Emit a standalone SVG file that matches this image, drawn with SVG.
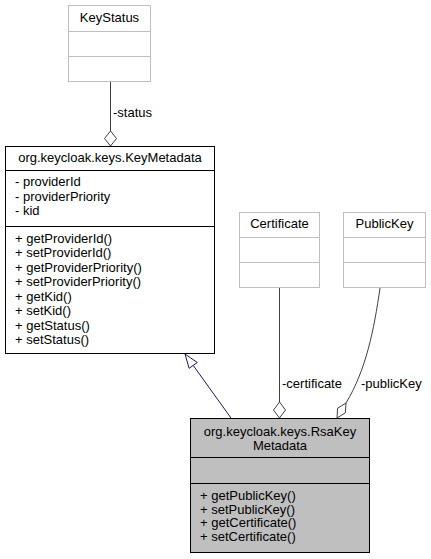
<svg xmlns="http://www.w3.org/2000/svg" width="431" height="559" viewBox="0 0 431 559">
<style>
text{font-family:"Liberation Sans",Arial,sans-serif;font-size:13px;fill:#000}
.c{text-anchor:middle}
.light{fill:#fff;stroke:#bfbfbf;stroke-width:1}
.dark{fill:#fff;stroke:#000;stroke-width:1}
.gray{fill:#bfbfbf;stroke:#000;stroke-width:1}
.ld{stroke:#bfbfbf;stroke-width:1}
.dd{stroke:#000;stroke-width:1}
.agg{fill:none;stroke:#404040;stroke-width:1}
.dia{fill:#fff;stroke:#404040;stroke-width:1}
.inh{fill:none;stroke:#191970;stroke-width:1}
.tri{fill:#fff;stroke:#191970;stroke-width:1}
</style>
<rect width="431" height="559" fill="#fff"/>
<g id="connectors">
<path class="agg" d="M110.5,82 L110.5,131"/>
<polygon class="dia" points="110.5,131 116.5,138.5 110.5,146 104.5,138.5"/>
<text x="113" y="117">-status</text>
<path class="agg" d="M279.5,288 L279.5,402"/>
<polygon class="dia" points="279.5,402 285.5,410 279.5,418 273.5,410"/>
<text x="282" y="388">-certificate</text>
<path class="agg" d="M380,288 C374,330 366,370 346,403"/>
<polygon class="dia" points="346,403 345.4,412.8 337,418 337.6,408.2"/>
<text x="361" y="388">-publicKey</text>
<path class="inh" d="M231,418 L193.2,365.4"/>
<polygon class="tri" points="185,354 197.3,362.5 189.1,368.3"/>
</g>
<g id="KeyStatus">
<rect class="light" x="68.5" y="5.5" width="82" height="76"/>
<line class="ld" x1="68.5" y1="31.5" x2="150.5" y2="31.5"/>
<line class="ld" x1="68.5" y1="56.5" x2="150.5" y2="56.5"/>
<text class="c" x="109.5" y="22">KeyStatus</text>
</g>
<g id="KeyMetadata">
<rect class="dark" x="5.5" y="146.5" width="209" height="207"/>
<line class="dd" x1="5.5" y1="170.5" x2="214.5" y2="170.5"/>
<line class="dd" x1="5.5" y1="226.5" x2="214.5" y2="226.5"/>
<text class="c" x="110" y="162">org.keycloak.keys.KeyMetadata</text>
<text x="15" y="186">- providerId</text>
<text x="15" y="200.5">- providerPriority</text>
<text x="15" y="215">- kid</text>
<text x="15" y="242.5">+ getProviderId()</text>
<text x="15" y="257">+ setProviderId()</text>
<text x="15" y="271.5">+ getProviderPriority()</text>
<text x="15" y="286">+ setProviderPriority()</text>
<text x="15" y="300.5">+ getKid()</text>
<text x="15" y="315">+ setKid()</text>
<text x="15" y="329.5">+ getStatus()</text>
<text x="15" y="344">+ setStatus()</text>
</g>
<g id="Certificate">
<rect class="light" x="239.5" y="212.5" width="80" height="75"/>
<line class="ld" x1="239.5" y1="237.5" x2="319.5" y2="237.5"/>
<line class="ld" x1="239.5" y1="262.5" x2="319.5" y2="262.5"/>
<text class="c" x="279.5" y="228">Certificate</text>
</g>
<g id="PublicKey">
<rect class="light" x="343.5" y="212.5" width="82" height="75"/>
<line class="ld" x1="343.5" y1="237.5" x2="425.5" y2="237.5"/>
<line class="ld" x1="343.5" y1="262.5" x2="425.5" y2="262.5"/>
<text class="c" x="384.5" y="228">PublicKey</text>
</g>
<g id="RsaKeyMetadata">
<rect class="gray" x="190.5" y="418.5" width="179" height="134"/>
<line class="dd" x1="190.5" y1="457.5" x2="369.5" y2="457.5"/>
<line class="dd" x1="190.5" y1="483.5" x2="369.5" y2="483.5"/>
<text class="c" x="280" y="436">org.keycloak.keys.RsaKey</text>
<text class="c" x="280" y="450">Metadata</text>
<text x="200" y="500">+ getPublicKey()</text>
<text x="200" y="513.7">+ setPublicKey()</text>
<text x="200" y="527.4">+ getCertificate()</text>
<text x="200" y="541">+ setCertificate()</text>
</g>
</svg>
